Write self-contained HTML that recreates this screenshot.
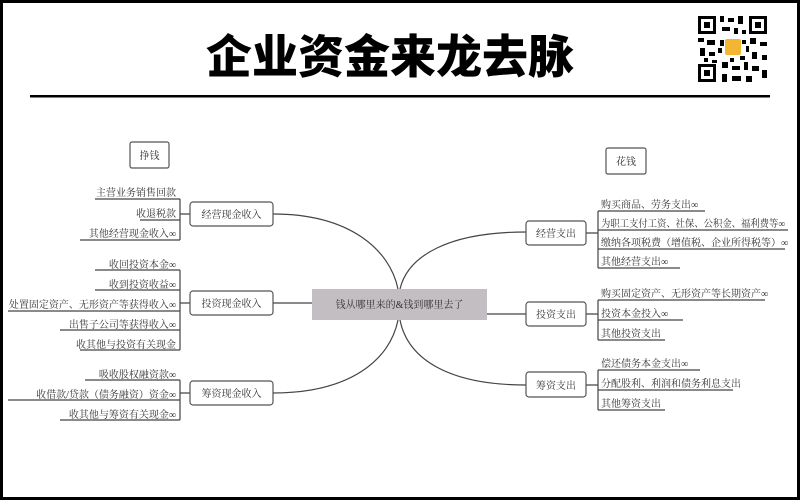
<!DOCTYPE html>
<html><head><meta charset="utf-8"><style>
html,body{margin:0;padding:0;background:#fff}
svg{display:block}
text{font-family:"Liberation Serif","Noto Serif CJK SC",serif;fill:#333;font-size:10px}
.t{font-family:"Liberation Sans","Noto Sans CJK SC",sans-serif;font-weight:900;fill:#000;font-size:46px}
</style></head><body>
<svg width="800" height="500" viewBox="0 0 800 500">
<rect x="1.5" y="1.5" width="797" height="497" fill="#fff" stroke="#000" stroke-width="3"/>
<text class="t" x="390" y="73" text-anchor="middle">企业资金来龙去脉</text>
<rect x="30" y="95" width="740" height="2.5" fill="#000"/>
<!-- QR -->
<g fill="#000">
<rect x="697" y="15" width="71" height="68" fill="#fff"/>
<rect x="698" y="16" width="18" height="18"/><rect x="701" y="19" width="12" height="12" fill="#fff"/><rect x="704" y="22" width="6" height="6"/>
<rect x="749" y="16" width="18" height="18"/><rect x="752" y="19" width="12" height="12" fill="#fff"/><rect x="755" y="22" width="6" height="6"/>
<rect x="698" y="64" width="18" height="18"/><rect x="701" y="67" width="12" height="12" fill="#fff"/><rect x="704" y="70" width="6" height="6"/>
<rect x="720" y="16" width="4" height="6"/><rect x="728" y="18" width="6" height="4"/><rect x="738" y="16" width="5" height="8"/>
<rect x="722" y="27" width="8" height="4"/><rect x="734" y="28" width="4" height="6"/><rect x="742" y="30" width="4" height="4"/>
<rect x="698" y="38" width="6" height="4"/><rect x="707" y="40" width="8" height="5"/><rect x="700" y="48" width="5" height="8"/>
<rect x="709" y="52" width="6" height="4"/><rect x="750" y="38" width="6" height="6"/><rect x="760" y="42" width="7" height="4"/>
<rect x="752" y="52" width="5" height="7"/><rect x="762" y="55" width="5" height="5"/><rect x="722" y="62" width="6" height="6"/>
<rect x="732" y="66" width="8" height="4"/><rect x="744" y="62" width="4" height="8"/><rect x="752" y="66" width="7" height="5"/>
<rect x="762" y="70" width="5" height="8"/><rect x="722" y="74" width="5" height="8"/><rect x="732" y="76" width="9" height="5"/>
<rect x="746" y="76" width="6" height="6"/><rect x="720" y="40" width="4" height="6"/><rect x="742" y="40" width="4" height="4"/>
<rect x="704" y="58" width="4" height="4"/><rect x="712" y="60" width="5" height="3"/><rect x="730" y="58" width="4" height="4"/>
<rect x="740" y="56" width="5" height="4"/><rect x="718" y="48" width="4" height="5"/><rect x="746" y="46" width="3" height="6"/>
</g>
<rect x="725" y="39" width="16" height="16" rx="2" fill="#f2b632"/>
<!-- connectors -->
<g fill="none" stroke="#444" stroke-width="1.2">
<path d="M273 214 C350 214 390 250 398 289"/>
<path d="M273 393 C350 393 390 360 398 320"/>
<path d="M526 232 C450 232 408 255 400 289"/>
<path d="M526 385 C450 385 408 360 400 320"/>
<path d="M273 303 H312"/>
<path d="M487 314 H526"/>
<path d="M180 199 V240 M180 214 H190"/>
<path d="M95 199 H180 M140 220 H180 M80 240 H180"/>
<path d="M180 270 V350 M180 303 H190"/>
<path d="M95 270 H180 M95 290 H180 M8 311 H180 M60 330 H180 M80 350 H180"/>
<path d="M180 380 V420 M180 393 H190"/>
<path d="M85 380 H180 M8 400 H180 M60 420 H180"/>
<path d="M598 211 V268 M586 233 H598"/>
<path d="M598 211 H705 M598 230 H788 M598 249 H785 M598 268 H680"/>
<path d="M598 300 V340 M586 314 H598"/>
<path d="M598 300 H765 M598 320 H683 M598 340 H665"/>
<path d="M598 370 V410 M586 385 H598"/>
<path d="M598 370 H700 M598 390 H733 M598 410 H665"/>
</g>
<g fill="#fff" stroke="#555" stroke-width="1.2">
<rect x="130" y="142" width="39" height="26" rx="2"/>
<rect x="606" y="148" width="40" height="26" rx="2"/>
<rect x="190" y="202" width="83" height="24" rx="3"/>
<rect x="190" y="291" width="83" height="24" rx="3"/>
<rect x="190" y="381" width="83" height="24" rx="3"/>
<rect x="526" y="221" width="60" height="24" rx="3"/>
<rect x="526" y="302" width="60" height="24" rx="3"/>
<rect x="526" y="372" width="60" height="25" rx="3"/>
</g>
<rect x="312" y="289" width="175" height="31" fill="#c2bec2"/>
<g text-anchor="middle">
<text x="149.5" y="159">挣钱</text>
<text x="626" y="165">花钱</text>
<text x="231.5" y="218">经营现金收入</text>
<text x="231.5" y="307">投资现金收入</text>
<text x="231.5" y="397">筹资现金收入</text>
<text x="556" y="237">经营支出</text>
<text x="556" y="318">投资支出</text>
<text x="556" y="389">筹资支出</text>
<text x="399.5" y="308">钱从哪里来的&amp;钱到哪里去了</text>
</g>
<g text-anchor="end">
<text x="176" y="196">主营业务销售回款</text>
<text x="176" y="217">收退税款</text>
<text x="176" y="237">其他经营现金收入∞</text>
<text x="176" y="268">收回投资本金∞</text>
<text x="176" y="288">收到投资收益∞</text>
<text x="176" y="308">处置固定资产、无形资产等获得收入∞</text>
<text x="176" y="328">出售子公司等获得收入∞</text>
<text x="176" y="348">收其他与投资有关现金</text>
<text x="176" y="378">吸收股权融资款∞</text>
<text x="176" y="398">收借款/贷款（债务融资）资金∞</text>
<text x="176" y="418">收其他与筹资有关现金∞</text>
</g>
<g>
<text x="601" y="208">购买商品、劳务支出∞</text>
<text x="601" y="227" textLength="184" lengthAdjust="spacingAndGlyphs">为职工支付工资、社保、公积金、福利费等∞</text>
<text x="601" y="246">缴纳各项税费（增值税、企业所得税等）∞</text>
<text x="601" y="265">其他经营支出∞</text>
<text x="601" y="297">购买固定资产、无形资产等长期资产∞</text>
<text x="601" y="317">投资本金投入∞</text>
<text x="601" y="337">其他投资支出</text>
<text x="601" y="367">偿还债务本金支出∞</text>
<text x="601" y="387">分配股利、利润和债务利息支出</text>
<text x="601" y="407">其他筹资支出</text>
</g>
</svg>
</body></html>
